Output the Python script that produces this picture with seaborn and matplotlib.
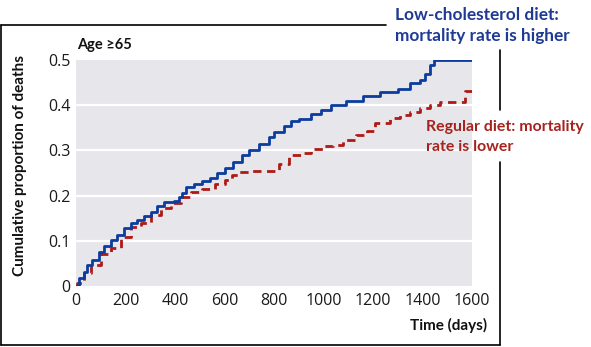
import matplotlib
matplotlib.use("Agg")
import matplotlib.pyplot as plt
from matplotlib.lines import Line2D
import seaborn as sns
import pandas as pd

# ---- data ----
low_days = [0, 12, 32, 46, 66, 93, 113, 140, 167, 194, 221, 248, 275, 302, 329, 356, 396,
            416, 430, 443, 477, 511, 540, 570, 600, 635, 670, 700, 740, 780, 800, 840, 870,
            900, 950, 990, 1030, 1090, 1160, 1230, 1300, 1350, 1390, 1410, 1430, 1445, 1600]
low_vals = [0, 0.017, 0.032, 0.046, 0.058, 0.076, 0.088, 0.102, 0.113, 0.128, 0.140, 0.146,
            0.155, 0.164, 0.177, 0.185, 0.187, 0.198, 0.205, 0.220, 0.226, 0.232, 0.24, 0.25,
            0.26, 0.275, 0.29, 0.30, 0.315, 0.33, 0.34, 0.355, 0.365, 0.37, 0.38, 0.39, 0.40,
            0.41, 0.42, 0.43, 0.435, 0.45, 0.455, 0.47, 0.49, 0.50, 0.50]
reg_days = [0, 6, 32, 59, 100, 140, 180, 221, 261, 302, 342, 383, 423, 463, 510, 560, 600,
            630, 660, 700, 790, 820, 860, 920, 950, 1000, 1040, 1080, 1130, 1175, 1210, 1270,
            1310, 1350, 1390, 1430, 1470, 1570, 1600]
reg_vals = [0, 0.006, 0.028, 0.046, 0.071, 0.083, 0.109, 0.130, 0.139, 0.157, 0.172, 0.183,
            0.198, 0.209, 0.214, 0.225, 0.235, 0.245, 0.252, 0.254, 0.255, 0.27, 0.29, 0.295,
            0.302, 0.31, 0.313, 0.324, 0.335, 0.342, 0.36, 0.372, 0.379, 0.386, 0.394, 0.401,
            0.406, 0.432, 0.432]
x_ticks = [0, 200, 400, 600, 800, 1000, 1200, 1400, 1600]
y_ticks = [0, 0.1, 0.2, 0.3, 0.4, 0.5]
y_ticklabels = ["0", "0.1", "0.2", "0.3", "0.4", "0.5"]

low_df = pd.DataFrame({"days": low_days, "value": low_vals})
reg_df = pd.DataFrame({"days": reg_days, "value": reg_vals})

sns.set_style("white")
plt.rcParams["font.family"] = ["Open Sans", "DejaVu Sans"]

W, H = 591, 347
fig = plt.figure(figsize=(W / 100, H / 100), dpi=100)
ax = fig.add_axes([76 / W, 1 - 286 / H, (472 - 76) / W, (286 - 60) / H])
ax.set_facecolor("#e7e7eb")

BLUE = "#0b3c9e"
RED = "#ae1a16"

for yv in y_ticks[1:-1]:
    ax.axhline(yv, color="white", lw=1.6, zorder=1)

sns.lineplot(data=low_df, x="days", y="value", ax=ax, color=BLUE, lw=2.0,
             drawstyle="steps-post", zorder=3)
sns.lineplot(data=reg_df, x="days", y="value", ax=ax, color=RED, lw=2.0,
             drawstyle="steps-post", dashes=(3, 2), zorder=2)

ax.set_xlim(0, 1600)
ax.set_ylim(0, 0.5)
ax.set_xticks(x_ticks)
ax.set_yticks(y_ticks)
ax.set_yticklabels(y_ticklabels)
ax.tick_params(axis="x", direction="in", length=3, width=1, color="white", pad=5,
               labelsize=11.5, labelcolor="#1a1a1a")
ax.tick_params(axis="y", length=0, pad=4, labelsize=11.5, labelcolor="#1a1a1a")
for s in ax.spines.values():
    s.set_visible(False)
ax.set_xlabel("")
ax.set_ylabel("")

LAB = ["Lato", "DejaVu Sans"]
fig.text(20 / W, 1 - 166 / H, "Cumulative proportion of deaths", rotation=90,
         ha="center", va="center", fontsize=11, fontweight="bold", color="#111111",
         family=LAB)
fig.text(487 / W, 1 - 325 / H, "Time (days)", ha="right", va="center", fontsize=11,
         fontweight="bold", color="#111111", family=LAB)
fig.text(77 / W, 1 - 45 / H, "Age ≥65", ha="left", va="center", fontsize=10.5,
         fontweight="bold", color="#111111", family=LAB)

fig.text(395 / W, 1 - 15 / H, "Low-cholesterol diet:", ha="left", va="center",
         fontsize=12.4, fontweight="bold", color="#1f3a94", family=LAB)
fig.text(395 / W, 1 - 36 / H, "mortality rate is higher", ha="left", va="center",
         fontsize=12.4, fontweight="bold", color="#1f3a94", family=LAB)
fig.text(426 / W, 1 - 127 / H, "Regular diet: mortality", ha="left", va="center",
         fontsize=11.4, fontweight="bold", color="#a6231d", family=LAB)
fig.text(426 / W, 1 - 147 / H, "rate is lower", ha="left", va="center",
         fontsize=11.4, fontweight="bold", color="#a6231d", family=LAB)

def fline(x0, y0, x1, y1):
    fig.add_artist(Line2D([x0 / W, x1 / W], [1 - y0 / H, 1 - y1 / H],
                          transform=fig.transFigure, color="black", lw=1.2))

fline(1, 25, 386, 25)
fline(1, 25, 1, 345)
fline(1, 345, 500, 345)
fline(500, 345, 500, 162)
fline(500, 110, 500, 50)

fig.savefig("out.png", dpi=100)
